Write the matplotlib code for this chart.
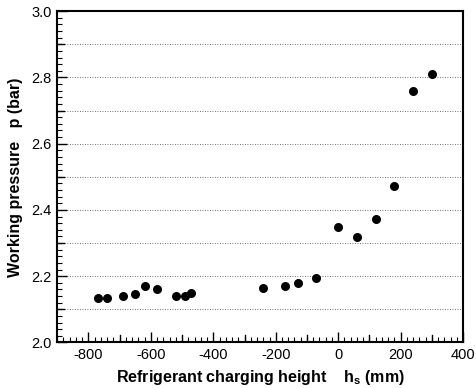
import matplotlib
matplotlib.use('Agg')
import matplotlib.pyplot as plt
from matplotlib.ticker import MultipleLocator
import numpy as np

# charging height (mm) and working pressure (bar)
height = [-770, -740, -690, -650, -620, -580, -520, -490, -470,
          -240, -170, -130, -70, 0, 60, 120, 180, 240, 300]
pressure = [2.135, 2.135, 2.14, 2.147, 2.17, 2.161, 2.141, 2.141, 2.148,
            2.163, 2.17, 2.179, 2.193, 2.347, 2.318, 2.372, 2.472, 2.76, 2.81]

x_ticks = [-800, -600, -400, -200, 0, 200, 400]
y_ticks = [2.0, 2.2, 2.4, 2.6, 2.8, 3.0]
grid_levels = np.arange(2.1, 2.95, 0.1)

plt.rcParams['font.family'] = ['Liberation Sans', 'DejaVu Sans']
plt.rcParams['mathtext.fontset'] = 'custom'
plt.rcParams['mathtext.rm'] = 'Liberation Sans'
plt.rcParams['mathtext.bf'] = 'Liberation Sans:bold'

fig = plt.figure(figsize=(4.76, 3.88), dpi=100)
ax = fig.add_axes([0.120, 0.1175, 0.853, 0.8535])

# dotted horizontal grid at every 0.1
for g in grid_levels:
    ax.axhline(g, color='0.25', linestyle=(0, (1, 2)), linewidth=0.6, zorder=1)

ax.scatter(height, pressure, s=30, color='black', zorder=3)

ax.set_xlim(-900, 400)
ax.set_ylim(2.0, 3.0)
ax.set_xticks(x_ticks)
ax.set_yticks(y_ticks)
ax.set_xticklabels([str(t) for t in x_ticks])
ax.set_yticklabels(['%.1f' % t for t in y_ticks])
ax.xaxis.set_minor_locator(MultipleLocator(20))
ax.yaxis.set_minor_locator(MultipleLocator(0.02))

# intermediate major ticks (unlabeled) at 100 / 0.1
for t in range(-700, 400, 200):
    ax.axvline(t, ymin=0, ymax=0.022, color='black', linewidth=1.0)
for t in np.arange(2.1, 3.0, 0.2):
    ax.axhline(t, xmin=0, xmax=0.018, color='black', linewidth=1.0)

ax.tick_params(which='major', direction='in', length=7, width=1.0,
               top=False, right=False, labelsize=10.5, pad=4)
ax.tick_params(which='minor', direction='in', length=3.5, width=0.8,
               top=False, right=False)

for s in ax.spines.values():
    s.set_linewidth(1.5)

ax.set_xlabel(r'Refrigerant charging height    $\mathbf{h_s}$ (mm)',
              fontsize=11.5, fontweight='bold', labelpad=4)
ax.set_ylabel('Working pressure   p (bar)', fontsize=11.5,
              fontweight='bold', labelpad=6)

fig.savefig('out.png', dpi=100)
